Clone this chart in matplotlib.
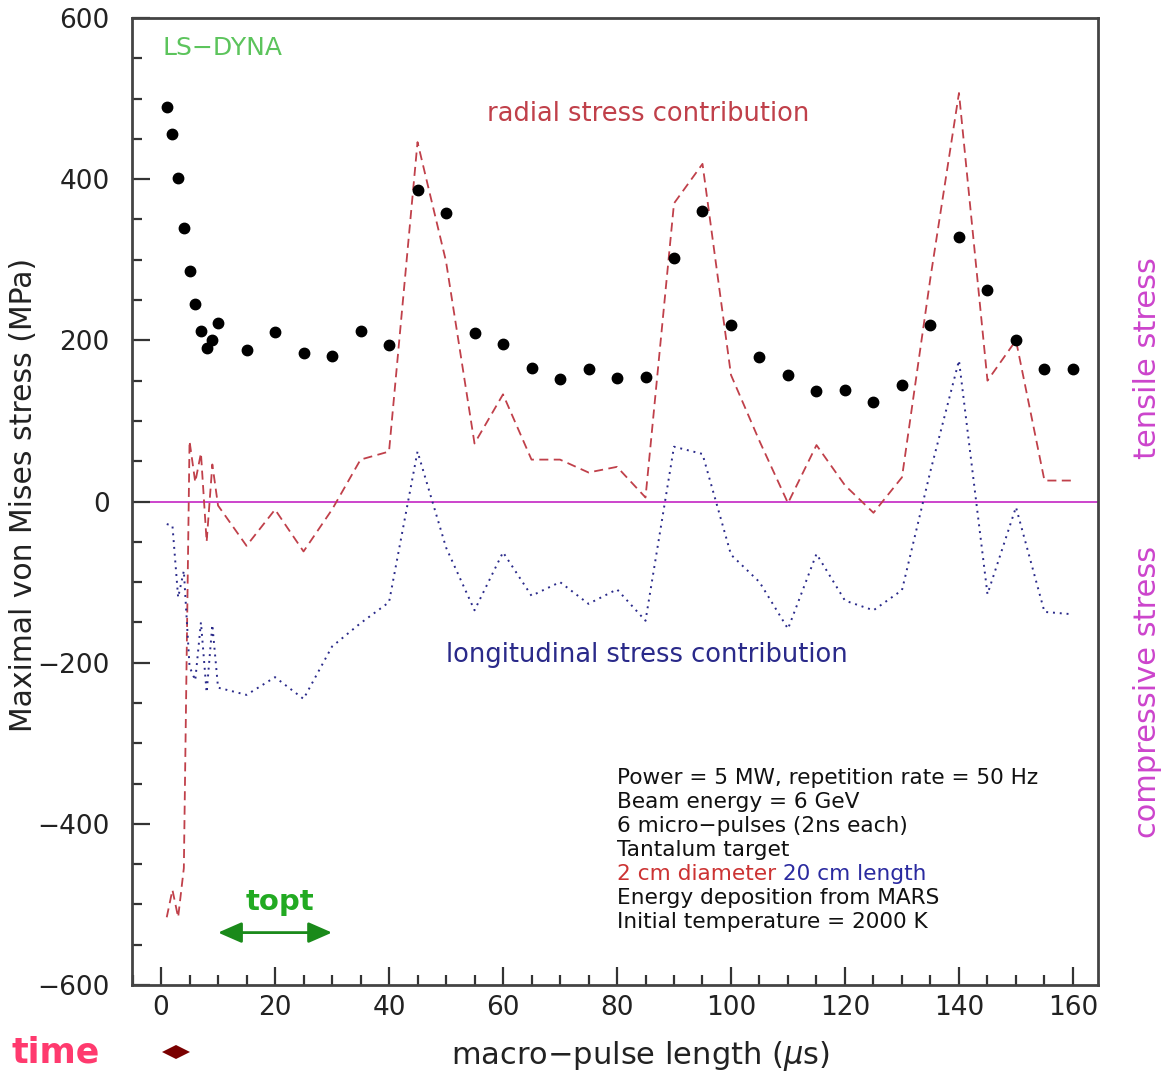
import numpy as np
import matplotlib
matplotlib.use("Agg")
import matplotlib.pyplot as plt
from matplotlib.patches import Polygon
from matplotlib.ticker import MultipleLocator

# macro-pulse length (us)
t = [1, 2, 3, 4, 5, 6, 7, 8, 9, 10,
     15, 20, 25, 30, 35, 40, 45, 50, 55, 60,
     65, 70, 75, 80, 85, 90, 95, 100, 105, 110,
     115, 120, 125, 130, 135, 140, 145, 150, 155, 160]

# maximal von Mises stress (MPa), black dots
von_mises = [489, 456, 401, 340, 286, 245, 211, 190, 200, 221,
             188, 210, 184, 180, 211, 194, 386, 358, 209, 196,
             166, 152, 164, 153, 155, 302, 361, 219, 179, 157,
             137, 138, 123, 144, 219, 328, 263, 201, 164, 164]

# radial stress contribution (red dashed)
radial = [-516, -482, -516, -455, 75, 24, 60, -50, 46, -5,
          -55, -10, -62, -10, 52, 62, 446, 298, 72, 133,
          52, 52, 36, 43, 5, 370, 419, 157, 75, -2,
          70, 20, -14, 30, 278, 507, 150, 200, 26, 26]

# longitudinal stress contribution (blue dotted)
longitudinal = [-28, -30, -119, -86, -205, -222, -150, -237, -153, -231,
                -240, -218, -245, -180, -151, -125, 62, -57, -135, -63,
                -117, -100, -127, -109, -148, 68, 59, -66, -100, -158,
                -65, -123, -135, -110, 38, 175, -115, -7, -137, -140]

info_lines = ["Power = 5 MW, repetition rate = 50 Hz",
              "Beam energy = 6 GeV",
              "6 micro\u2212pulses (2ns each)",
              "Tantalum target",
              None,
              "Energy deposition from MARS",
              "Initial temperature = 2000 K"]

red = "#c0404a"
blue = "#2a2a8a"
magenta = "#cc44cc"

fig = plt.figure(figsize=(11.7, 10.74), dpi=100)
ax = fig.add_axes([0.1128, 0.0829, 0.8257, 0.9003])

ax.axhline(0, color=magenta, lw=1.4, zorder=1)
ax.plot(t, radial, color=red, lw=1.3, ls=(0, (5, 3)), zorder=2)
ax.plot(t, longitudinal, color=blue, lw=1.4, ls=(0, (1, 2.5)), zorder=2)
ax.plot(t, von_mises, 'o', color='black', ms=7.5, zorder=3)

ax.set_xlim(-5.1, 164.4)
ax.set_ylim(-600, 600)
ax.xaxis.set_major_locator(MultipleLocator(20))
ax.xaxis.set_minor_locator(MultipleLocator(5))
ax.yaxis.set_major_locator(MultipleLocator(200))
ax.yaxis.set_minor_locator(MultipleLocator(50))
ax.tick_params(which='both', direction='in', top=False, right=False,
               color='#333333', width=1.6, labelsize=19, labelcolor='#222222')
ax.tick_params(which='major', length=13)
ax.tick_params(which='minor', length=7)
ax.tick_params(axis='y', pad=16)
ax.tick_params(axis='x', pad=7)
for s in ax.spines.values():
    s.set_color('#444444')
    s.set_linewidth(2)

ax.set_ylabel("Maximal von Mises stress (MPa)", fontsize=21.5, color='#222222')
ax.yaxis.set_label_coords(-0.097, 0.507)
ax.set_xlabel("macro\u2212pulse length ($\\mu$s)", fontsize=22, color='#222222')
ax.xaxis.set_label_coords(0.526, -0.056)

ax.text(0.032, 0.969, "LS\u2212DYNA", transform=ax.transAxes, color='#5cc45c',
        fontsize=18, va='center', ha='left')
ax.text(0.3675, 0.9007, "radial stress contribution", transform=ax.transAxes,
        color=red, fontsize=18.5, va='center', ha='left')
ax.text(0.325, 0.341, "longitudinal stress contribution", transform=ax.transAxes,
        color=blue, fontsize=18.5, va='center', ha='left')

y0 = 0.2037
dy = 0.0248
for i, line in enumerate(info_lines):
    yy = y0 - i * dy
    if line is None:
        r = ax.text(0.502, yy, "2 cm diameter", transform=ax.transAxes,
                    color='#cc3333', fontsize=15.6, va='bottom', ha='left')
        ax.annotate(" 20 cm length", xy=(1, 0), xycoords=r, color='#2a2aa0',
                    fontsize=15.6, va='bottom', ha='left')
    else:
        ax.text(0.502, yy, line, transform=ax.transAxes, color='#111111',
                fontsize=15.6, va='bottom', ha='left')

# t_opt arrow
ax.annotate('', xy=(10, -535), xytext=(30, -535),
            arrowprops=dict(arrowstyle='<|-|>,head_length=0.8,head_width=0.35',
                            color='#1a8a1a', lw=2, mutation_scale=18,
                            shrinkA=0, shrinkB=0))
ax.text(20.8, -497, "topt", color='#22aa22', fontsize=21, fontweight='bold',
        ha='center', va='center')

# right-hand labels
fig.text(0.981, 0.667, "tensile stress", rotation=90, color=magenta,
         fontsize=22, ha='center', va='center')
fig.text(0.981, 0.356, "compressive stress", rotation=90, color=magenta,
         fontsize=22, ha='center', va='center')

# time marker below the axes
fig.text(0.010, 0.020, "time", color='#ff3a6e', fontsize=25, fontweight='bold',
         ha='left', va='center')
cx, cy = 176 / 1170, (1074 - 1052) / 1074
w, h = 14 / 1170, 7 / 1074
fig.patches.append(Polygon([[cx - w, cy], [cx, cy + h], [cx + w, cy], [cx, cy - h]],
                           closed=True, transform=fig.transFigure,
                           facecolor='#7a0000', edgecolor='none'))

fig.savefig("out.png", dpi=100)
